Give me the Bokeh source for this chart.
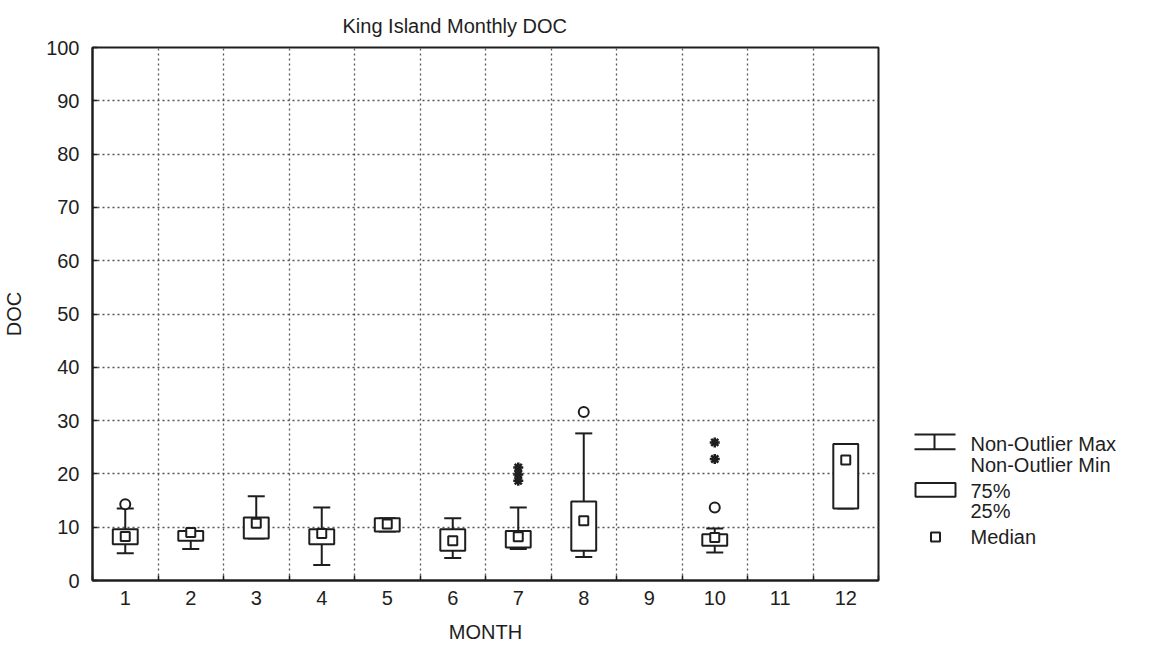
from bokeh.plotting import figure
from bokeh.models import Range1d, FixedTicker, Title, ColumnDataSource
from bokeh.layouts import row
from bokeh.embed import file_html
from bokeh.resources import INLINE
from bokeh.core.properties import value

# ---- data ----
months = [1, 2, 3, 4, 5, 6, 7, 8, 10, 12]
q1 = [6.8, 7.45, 7.9, 6.8, 9.2, 5.6, 6.2, 5.6, 6.5, 13.5]
q3 = [9.6, 9.3, 11.8, 9.6, 11.7, 9.6, 9.3, 14.8, 8.7, 25.6]
median = [8.25, 9.0, 10.75, 8.8, 10.6, 7.45, 8.2, 11.2, 8.05, 22.6]
wmin = [5.1, 5.9, 7.9, 2.9, 9.2, 4.2, 5.9, 4.4, 5.25, 13.5]
wmax = [13.5, 9.3, 15.8, 13.7, 11.7, 11.7, 13.7, 27.6, 9.75, 25.6]

outlier_month = [1, 8, 10]
outlier_value = [14.3, 31.6, 13.7]

extreme_month = [7, 7, 7, 10, 10]
extreme_value = [21.2, 19.9, 18.7, 25.9, 22.8]

month_ticks = list(range(1, 13))
doc_ticks = list(range(0, 101, 10))

FONT = "Liberation Sans"
INK = "#1e1e1e"
BOX_W = 0.38
CAP_W = 0.26

H = 650
p = figure(width=888, height=H, x_range=Range1d(0.5, 12.5), y_range=Range1d(0, 100),
           toolbar_location=None, output_backend="svg",
           min_border_left=92, min_border_right=10, min_border_top=47, min_border_bottom=70)

p.add_layout(Title(text="King Island Monthly DOC", align="left", offset=250,
                   text_font=FONT, text_font_size="20px", text_font_style="normal",
                   text_color=INK, standoff=22), "above")

p.outline_line_color = INK
p.outline_line_width = 2
p.background_fill_color = "white"
p.border_fill_color = "white"

# x axis
p.xaxis.ticker = FixedTicker(ticks=month_ticks, minor_ticks=[m + 0.5 for m in range(0, 13)])
p.xaxis.major_tick_in = 0
p.xaxis.major_tick_out = 0
p.xaxis.minor_tick_in = 5
p.xaxis.minor_tick_out = 0
p.xaxis.axis_label = "MONTH"
p.xaxis.major_label_standoff = 10
p.xaxis.axis_label_standoff = 13

# y axis
p.yaxis.ticker = FixedTicker(ticks=doc_ticks)
p.yaxis.major_tick_in = 5
p.yaxis.major_tick_out = 0
p.yaxis.minor_tick_line_color = None
p.yaxis.axis_label = "DOC"
p.yaxis.major_label_standoff = 13
p.yaxis.axis_label_standoff = 18

for ax in (p.xaxis, p.yaxis):
    ax.axis_line_color = INK
    ax.axis_line_width = 2
    ax.major_tick_line_color = INK
    ax.major_tick_line_width = 1.5
    ax.minor_tick_line_color = INK
    ax.minor_tick_line_width = 1.5
    ax.major_label_text_font = FONT
    ax.major_label_text_font_size = "20px"
    ax.major_label_text_color = INK
    ax.axis_label_text_font = FONT
    ax.axis_label_text_font_size = "20px"
    ax.axis_label_text_font_style = "normal"
    ax.axis_label_text_color = INK

# grids
p.xgrid.ticker = FixedTicker(ticks=[m + 0.5 for m in range(1, 12)])
p.ygrid.ticker = FixedTicker(ticks=doc_ticks[1:-1])
for g in (p.xgrid, p.ygrid):
    g.grid_line_color = "#555555"
    g.grid_line_dash = "2 3"
    g.grid_line_width = 1.3

src = ColumnDataSource(dict(
    m=months, q1=q1, q3=q3, med=median, lo=wmin, hi=wmax,
    cl=[m - CAP_W / 2 for m in months], cr=[m + CAP_W / 2 for m in months],
))

# whiskers
p.segment(x0="m", y0="q3", x1="m", y1="hi", source=src, line_color=INK, line_width=2)
p.segment(x0="m", y0="q1", x1="m", y1="lo", source=src, line_color=INK, line_width=2)
p.segment(x0="cl", y0="hi", x1="cr", y1="hi", source=src, line_color=INK, line_width=2)
p.segment(x0="cl", y0="lo", x1="cr", y1="lo", source=src, line_color=INK, line_width=2)
# boxes
p.vbar(x="m", bottom="q1", top="q3", width=BOX_W, source=src,
       fill_color="white", line_color=INK, line_width=2)
# medians
p.scatter(x="m", y="med", source=src, marker="square", size=9,
          fill_color="white", line_color=INK, line_width=2)
# outliers and extremes
p.scatter(x=outlier_month, y=outlier_value, marker="circle", size=10,
          fill_color="white", line_color=INK, line_width=2)
p.scatter(x=extreme_month, y=extreme_value, marker="asterisk", size=10,
          line_color=INK, line_width=2.5)

# ---- legend panel ----
lg = figure(width=255, height=H, x_range=Range1d(0, 255), y_range=Range1d(H, 0),
            toolbar_location=None, output_backend="svg", min_border=0,
            x_axis_type=None, y_axis_type=None)
lg.outline_line_color = None
lg.grid.visible = False

lg.segment(x0=[26, 26, 46], y0=[472, 490, 472], x1=[67, 67, 46], y1=[472, 490, 490],
           line_color=INK, line_width=2)
lg.quad(left=[27], right=[67], top=[531], bottom=[548], fill_color="white",
        line_color=INK, line_width=2)
lg.scatter(x=[47], y=[597], marker="square", size=9, fill_color="white",
           line_color=INK, line_width=2)
lg.text(x=[82, 82, 82, 82, 82], y=[484, 509, 541, 565, 597],
        text=["Non-Outlier Max", "Non-Outlier Min", "75%", "25%", "Median"],
        text_font=value(FONT), text_font_size="20px", text_color=INK,
        text_align="left", text_baseline="middle")

layout = row(p, lg, spacing=0)
open("out.html", "w").write(file_html(layout, INLINE))
